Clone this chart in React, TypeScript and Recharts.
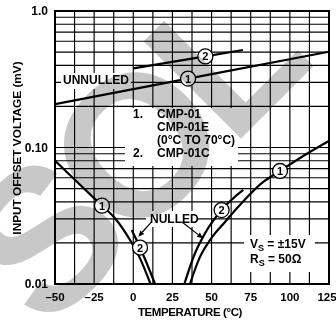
import React from "react";
import { LineChart, Line, XAxis, YAxis, CartesianGrid, ReferenceArea, ReferenceLine } from "recharts";

const FONT = "'Liberation Sans', Arial, Helvetica, sans-serif";

// axis ticks (grid lines) and the ones that carry a label
const tempTicks = [-50, -37.5, -25, -12.5, 0, 12.5, 25, 37.5, 50, 62.5, 75, 87.5, 100, 112.5, 125];
const tempLabels = [-50, -25, 0, 25, 50, 75, 100, 125];
const voltTicks = [
  0.01, 0.02, 0.03, 0.04, 0.05, 0.06, 0.07, 0.08, 0.09,
  0.1, 0.2, 0.3, 0.4, 0.5, 0.6, 0.7, 0.8, 0.9, 1,
];
const voltLabels: Record<string, string> = { "0.01": "0.01", "0.1": "0.10", "1": "1.0" };

// unnulled offset (mV) vs temperature (°C)
const unnulled1 = [
  { t: -50, v: 0.208 },
  { t: 35, v: 0.32, mark: "1" },
  { t: 125, v: 0.503 },
];
const unnulled2 = [
  { t: 0, v: 0.38 },
  { t: 46, v: 0.465, mark: "2" },
  { t: 70, v: 0.518 },
];

// nulled offset, cold side
const nulledCold1 = [
  { t: -50, v: 0.08 },
  { t: -38.5, v: 0.0598 },
  { t: -20, v: 0.0375, mark: "1" },
  { t: -11.7, v: 0.0303 },
  { t: -2.1, v: 0.021 },
  { t: 4.3, v: 0.0154 },
  { t: 11, v: 0.01 },
];
const nulledCold2 = [
  { t: -1, v: 0.0249 },
  { t: 4.3, v: 0.0185, mark: "2" },
  { t: 8.6, v: 0.0142 },
  { t: 13.9, v: 0.01 },
];

// nulled offset, hot side
const nulledHot1 = [
  { t: 36.2, v: 0.01 },
  { t: 42.6, v: 0.0158 },
  { t: 49, v: 0.021 },
  { t: 58.6, v: 0.0285 },
  { t: 68.1, v: 0.0379 },
  { t: 82.2, v: 0.055 },
  { t: 93.7, v: 0.0673, mark: "1" },
  { t: 109.6, v: 0.0881 },
  { t: 125, v: 0.1116 },
];
const nulledHot2 = [
  { t: 32.6, v: 0.01 },
  { t: 39.4, v: 0.0168 },
  { t: 45.8, v: 0.0235 },
  { t: 56.4, v: 0.0348, mark: "2" },
  { t: 70.2, v: 0.0489 },
];

// "NULLED" arrows, from label to curve
const arrows = [
  [{ x: 11.8, y: 0.0286 }, { x: 3.2, y: 0.0222 }],
  [{ x: 31.1, y: 0.0285 }, { x: 44.5, y: 0.0216 }],
];

// places where the printed grid stops around the text
const gaps = [
  { x1: -46.2, x2: -1.5, y1: 0.268, y2: 0.351 },
  { x1: -5.3, x2: 66.9, y1: 0.0732, y2: 0.1948 },
  { x1: 8.1, x2: 41.3, y1: 0.0262, y2: 0.0343 },
  { x1: 70.7, x2: 116, y1: 0.01224, y2: 0.02285 },
];

const MarkDot = (props: any) => {
  const { cx, cy, payload, index } = props;
  if (!payload || !payload.mark) return <g key={`n${index}`} />;
  return (
    <g key={`m${index}`}>
      <circle cx={cx} cy={cy} r={7.5} fill="#fff" stroke="#000" strokeWidth={1.3} />
      <text x={cx} y={cy + 4} textAnchor="middle" fontSize={11} fontWeight="bold" fontFamily={FONT} fill="#000">
        {payload.mark}
      </text>
    </g>
  );
};

const Arrow = (props: any) => {
  const { x1, y1, x2, y2 } = props;
  const a = Math.atan2(y2 - y1, x2 - x1);
  const len = 6;
  const w = 2.6;
  const bx = x2 - len * Math.cos(a);
  const by = y2 - len * Math.sin(a);
  const px = -Math.sin(a) * w;
  const py = Math.cos(a) * w;
  return (
    <g>
      <line x1={x1} y1={y1} x2={bx} y2={by} stroke="#000" strokeWidth={1.2} />
      <polygon points={`${x2},${y2} ${bx + px},${by + py} ${bx - px},${by - py}`} fill="#000" />
    </g>
  );
};

const XTick = (props: any) => {
  const { x, y, payload } = props;
  const v = payload.value as number;
  if (!tempLabels.includes(v)) return <g />;
  const label = v < 0 ? `–${-v}` : `${v}`;
  return (
    <text x={v === 125 ? x - 2 : x} y={y} dy="0.71em" textAnchor="middle" fontSize={11.5} fontWeight="bold" fontFamily={FONT} fill="#000">
      {label}
    </text>
  );
};

const tickStyle = { fontSize: 12, fontWeight: "bold", fontFamily: FONT, fill: "#000" } as any;
const txt = { fontSize: 12, fontWeight: "bold", fontFamily: FONT, fill: "#000" } as any;

export default function App() {
  const series = [unnulled1, unnulled2, nulledCold1, nulledCold2, nulledHot1, nulledHot2];
  return (
    <div style={{ position: "absolute", left: 0, top: 0, width: 336, height: 322, background: "#fff" }}>
      <LineChart width={336} height={322} margin={{ top: 11, right: 7, left: 0, bottom: 0 }}>
        <CartesianGrid stroke="#000" strokeWidth={1.15} />
        <XAxis
          type="number"
          dataKey="t"
          domain={[-50, 125]}
          ticks={tempTicks}
          allowDataOverflow
          height={38}
          axisLine={false}
          tickLine={false}
          tickSize={0}
          tickMargin={9}
          interval={0}
          tick={XTick}
        />
        <YAxis
          type="number"
          dataKey="v"
          scale="log"
          domain={[0.01, 1]}
          ticks={voltTicks}
          allowDataOverflow
          width={55}
          axisLine={false}
          tickLine={false}
          tickSize={0}
          tickMargin={7}
          interval={0}
          tick={tickStyle}
          tickFormatter={(v: number) => voltLabels[String(v)] ?? ""}
        />
        {gaps.map((g, i) => (
          <ReferenceArea key={`g${i}`} {...g} fill="#fff" fillOpacity={1} stroke="none" ifOverflow="visible" />
        ))}
        {arrows.map((seg, i) => (
          <ReferenceLine key={`a${i}`} segment={seg} shape={Arrow} ifOverflow="visible" />
        ))}
        {series.map((d, i) => (
          <Line
            key={`s${i}`}
            data={d}
            dataKey="v"
            type={i < 2 ? "linear" : "monotone"}
            stroke="#000"
            strokeWidth={2.2}
            dot={MarkDot}
            activeDot={false}
            isAnimationActive={false}
          />
        ))}
        <ReferenceArea x1={-50} x2={125} y1={0.01} y2={1} fill="none" stroke="#000" strokeWidth={2} ifOverflow="visible" />
      </LineChart>
      <svg
        width={336}
        height={322}
        style={{ position: "absolute", left: 0, top: 0, pointerEvents: "none", mixBlendMode: "multiply" }}
      >
        <text
          x={45.6}
          y={334}
          fontSize={200}
          fontWeight="bold"
          fontFamily={FONT}
          letterSpacing={-13}
          fill="#c8c8c8"
          transform="rotate(-45 45.6 334)"
        >
          SOL
        </text>
        <text {...txt} x={63} y={84}>UNNULLED</text>
        <text {...txt} x={133} y={118}>1.</text>
        <text {...txt} x={157} y={118}>CMP-01</text>
        <text {...txt} x={157} y={131}>CMP-01E</text>
        <text {...txt} x={157} y={144}>(0°C TO 70°C)</text>
        <text {...txt} x={133} y={157}>2.</text>
        <text {...txt} x={157} y={157}>CMP-01C</text>
        <text {...txt} x={150} y={222.5}>NULLED</text>
        <text {...txt} x={250} y={248}>
          V<tspan fontSize={9} dy={3}>S</tspan>
          <tspan dy={-3}> = ±15V</tspan>
        </text>
        <text {...txt} x={250} y={262.5}>
          R<tspan fontSize={9} dy={3}>S</tspan>
          <tspan dy={-3}> = 50Ω</tspan>
        </text>
        <text {...txt} fontSize={11.8} x={20.5} y={148} textAnchor="middle" transform="rotate(-90 20.5 148)">
          INPUT OFFSET VOLTAGE (mV)
        </text>
        <text {...txt} fontSize={11.5} letterSpacing={-0.4} x={190} y={316} textAnchor="middle">
          TEMPERATURE (°C)
        </text>
      </svg>
    </div>
  );
}
